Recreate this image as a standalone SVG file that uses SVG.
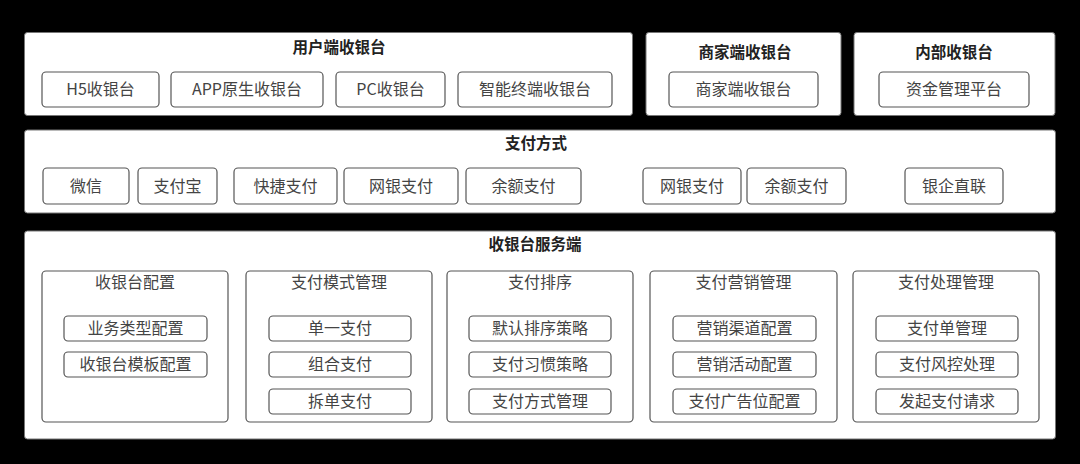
<svg xmlns="http://www.w3.org/2000/svg" width="1080" height="464" viewBox="0 0 1080 464">
<style>
.bg{fill:#000}
.panel{fill:#fff;stroke:#777;stroke-width:1;}
.box{fill:#fff;stroke:#555;stroke-width:1.2;}
.sub{fill:#fff;stroke:#555;stroke-width:1.2;}
text{font-family:"Noto Sans CJK SC","Noto Sans",sans-serif;font-size:16px;text-anchor:middle;}
.t{font-weight:bold;fill:#222;font-size:15.5px}
.l{fill:#444}
</style>
<rect class="bg" x="0" y="0" width="1080" height="464"/>
<g id="user-cashier">
<rect class="panel" x="24.5" y="32.5" width="608" height="83" rx="3"/>
<text class="t" x="339" y="52.5">用户端收银台</text>
<rect class="box" x="42" y="72" width="117" height="35" rx="4"/><text class="l" x="100.5" y="95">H5收银台</text>
<rect class="box" x="171" y="72" width="152" height="35" rx="4"/><text class="l" x="247" y="95">APP原生收银台</text>
<rect class="box" x="336" y="72" width="109" height="35" rx="4"/><text class="l" x="390.5" y="95">PC收银台</text>
<rect class="box" x="458" y="72" width="154" height="35" rx="4"/><text class="l" x="535" y="95">智能终端收银台</text>
</g>
<g id="merchant-cashier">
<rect class="panel" x="646" y="32.5" width="195" height="83" rx="3"/>
<text class="t" x="745" y="57.5">商家端收银台</text>
<rect class="box" x="669" y="72" width="149" height="35" rx="4"/><text class="l" x="743.5" y="95">商家端收银台</text>
</g>
<g id="internal-cashier">
<rect class="panel" x="854" y="32.5" width="201" height="83" rx="3"/>
<text class="t" x="954" y="57.5">内部收银台</text>
<rect class="box" x="879" y="72" width="150" height="35" rx="4"/><text class="l" x="954" y="95">资金管理平台</text>
</g>
<g id="payment-methods">
<rect class="panel" x="24.5" y="130" width="1031" height="83" rx="3"/>
<text class="t" x="536" y="148.5">支付方式</text>
<rect class="box" x="43" y="168" width="86" height="36" rx="4"/><text class="l" x="86" y="191.5">微信</text>
<rect class="box" x="138" y="168" width="79" height="36" rx="4"/><text class="l" x="177.5" y="191.5">支付宝</text>
<rect class="box" x="234" y="168" width="103" height="36" rx="4"/><text class="l" x="285.5" y="191.5">快捷支付</text>
<rect class="box" x="344" y="168" width="114" height="36" rx="4"/><text class="l" x="401" y="191.5">网银支付</text>
<rect class="box" x="466" y="168" width="115" height="36" rx="4"/><text class="l" x="523.5" y="191.5">余额支付</text>
<rect class="box" x="643" y="168" width="98" height="36" rx="4"/><text class="l" x="692" y="191.5">网银支付</text>
<rect class="box" x="747" y="168" width="99" height="36" rx="4"/><text class="l" x="796.5" y="191.5">余额支付</text>
<rect class="box" x="905" y="168" width="98" height="36" rx="4"/><text class="l" x="954" y="191.5">银企直联</text>
</g>
<g id="cashier-server">
<rect class="panel" x="24.5" y="231" width="1031" height="208" rx="3"/>
<text class="t" x="535" y="250">收银台服务端</text>
</g>
<g id="cashier-config">
<rect class="sub" x="42" y="271" width="186" height="151" rx="4"/>
<text class="l" x="135" y="287.5">收银台配置</text>
<rect class="box" x="64" y="316" width="143" height="25" rx="4"/><text class="l" x="135.5" y="334">业务类型配置</text>
<rect class="box" x="64" y="352" width="143" height="25" rx="4"/><text class="l" x="135.5" y="370">收银台模板配置</text>
</g>
<g id="pay-mode">
<rect class="sub" x="246" y="271" width="186" height="151" rx="4"/>
<text class="l" x="339" y="287.5">支付模式管理</text>
<rect class="box" x="269" y="316" width="142" height="25" rx="4"/><text class="l" x="340" y="334">单一支付</text>
<rect class="box" x="269" y="352" width="142" height="25" rx="4"/><text class="l" x="340" y="370">组合支付</text>
<rect class="box" x="269" y="389" width="142" height="25" rx="4"/><text class="l" x="340" y="407">拆单支付</text>
</g>
<g id="pay-sort">
<rect class="sub" x="447" y="271" width="186" height="151" rx="4"/>
<text class="l" x="540" y="287.5">支付排序</text>
<rect class="box" x="469" y="316" width="142" height="25" rx="4"/><text class="l" x="540" y="334">默认排序策略</text>
<rect class="box" x="469" y="352" width="142" height="25" rx="4"/><text class="l" x="540" y="370">支付习惯策略</text>
<rect class="box" x="469" y="389" width="142" height="25" rx="4"/><text class="l" x="540" y="407">支付方式管理</text>
</g>
<g id="pay-marketing">
<rect class="sub" x="650" y="271" width="187" height="151" rx="4"/>
<text class="l" x="743.5" y="287.5">支付营销管理</text>
<rect class="box" x="673" y="316" width="143" height="25" rx="4"/><text class="l" x="744.5" y="334">营销渠道配置</text>
<rect class="box" x="673" y="352" width="143" height="25" rx="4"/><text class="l" x="744.5" y="370">营销活动配置</text>
<rect class="box" x="673" y="389" width="143" height="25" rx="4"/><text class="l" x="744.5" y="407">支付广告位配置</text>
</g>
<g id="pay-processing">
<rect class="sub" x="853" y="271" width="186" height="151" rx="4"/>
<text class="l" x="946" y="287.5">支付处理管理</text>
<rect class="box" x="876" y="316" width="142" height="25" rx="4"/><text class="l" x="947" y="334">支付单管理</text>
<rect class="box" x="876" y="352" width="142" height="25" rx="4"/><text class="l" x="947" y="370">支付风控处理</text>
<rect class="box" x="876" y="389" width="142" height="25" rx="4"/><text class="l" x="947" y="407">发起支付请求</text>
</g>
<g id="connectors"></g>
</svg>
